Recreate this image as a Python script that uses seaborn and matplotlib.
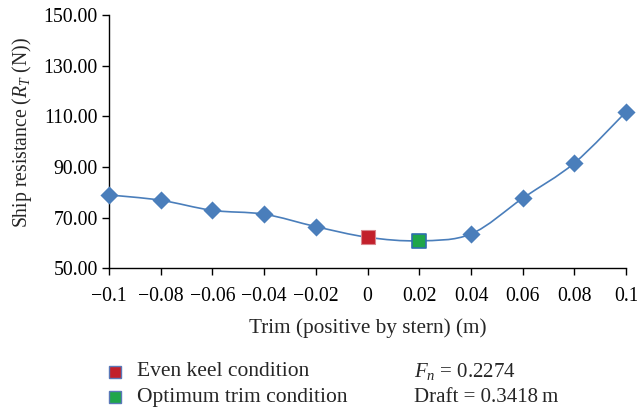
import numpy as np
import pandas as pd
import matplotlib
matplotlib.use("Agg")
import matplotlib.pyplot as plt
from matplotlib.path import Path
from matplotlib.patches import PathPatch
from matplotlib.lines import Line2D
import seaborn as sns

trim = [-0.1, -0.08, -0.06, -0.04, -0.02, 0.0, 0.02, 0.04, 0.06, 0.08, 0.1]
resistance = [79.0, 76.9, 72.9, 71.4, 66.5, 62.3, 60.9, 63.6, 77.7, 91.6, 111.8]
even_keel_trim = [0.0]
even_keel_res = [62.3]
opt_trim = [0.02]
opt_res = [60.9]
xtick_vals = [-0.1, -0.08, -0.06, -0.04, -0.02, 0.0, 0.02, 0.04, 0.06, 0.08, 0.1]
xtick_labels = ["\u22120.1", "\u22120.08", "\u22120.06", "\u22120.04", "\u22120.02", "0",
                "0.02", "0.04", "0.06", "0.08", "0.1"]
ytick_vals = [50, 70, 90, 110, 130, 150]
legend_labels = ["Even keel condition", "Optimum trim condition"]
info_lines = [r"$F_n$ = 0.2274", "Draft = 0.3418\u2009m"]

sns.set_style("white")
plt.rcParams['font.family'] = ['Liberation Serif', 'DejaVu Serif']
plt.rcParams['mathtext.fontset'] = 'custom'
plt.rcParams['mathtext.rm'] = 'Liberation Serif'
plt.rcParams['mathtext.it'] = 'Liberation Serif:italic'

fig = plt.figure(figsize=(6.37, 4.13), dpi=100)
ax = fig.add_axes([0.171, 0.350, 0.812, 0.614])

blue = "#4a7ebb"

# smoothed connecting curve (Bezier through data points, like a smoothed line chart)
x = np.array(trim); y = np.array(resistance)
verts = [(x[0], y[0])]
codes = [Path.MOVETO]
n = len(x)
for i in range(n - 1):
    p0 = (x[i - 1], y[i - 1]) if i > 0 else (x[i], y[i])
    p1 = (x[i], y[i]); p2 = (x[i + 1], y[i + 1])
    p3 = (x[i + 2], y[i + 2]) if i + 2 < n else p2
    c1 = (p1[0] + (p2[0] - p0[0]) / 6, p1[1] + (p2[1] - p0[1]) / 6)
    c2 = (p2[0] - (p3[0] - p1[0]) / 6, p2[1] - (p3[1] - p1[1]) / 6)
    verts += [c1, c2, p2]
    codes += [Path.CURVE4] * 3
ax.add_patch(PathPatch(Path(verts, codes), facecolor='none', edgecolor=blue, lw=1.2,
                       zorder=2, clip_on=False))

df = pd.DataFrame({"trim": trim, "res": resistance})
mask = ~df["trim"].isin(even_keel_trim + opt_trim)
sns.scatterplot(data=df[mask], x="trim", y="res", marker="D", s=85, color=blue,
                linewidth=0, ax=ax, zorder=3, clip_on=False)
sns.scatterplot(x=even_keel_trim, y=even_keel_res, marker="s", s=95, color="#c2202b",
                edgecolor="#d9868c", linewidth=0.8, ax=ax, zorder=4, clip_on=False)
sns.scatterplot(x=opt_trim, y=opt_res, marker="s", s=95, color="#1fa64a",
                edgecolor="#2f6fae", linewidth=1.2, ax=ax, zorder=4, clip_on=False)

ax.set_xlim(-0.1, 0.1)
ax.set_ylim(50, 150)
ax.set_xticks(xtick_vals)
ax.set_xticklabels(xtick_labels)
ax.set_yticks(ytick_vals)
ax.set_yticklabels([f"{v:.2f}" for v in ytick_vals])
ax.tick_params(axis='both', labelsize=14.2, direction='out', length=5, width=1,
               color='black', colors='black', left=True, bottom=True, pad=3)
ax.tick_params(axis='x', pad=8)
for s in ["top", "right"]:
    ax.spines[s].set_visible(False)
for s in ["left", "bottom"]:
    ax.spines[s].set_color("black")
    ax.spines[s].set_linewidth(1.0)
ax.set_xlabel("Trim (positive by stern) (m)", fontsize=15.3, labelpad=9)
ax.set_ylabel(r"Ship resistance ($R_T$ (N))", fontsize=14.2)
ax.yaxis.set_label_coords(-0.145, 0.535)

# legend below the chart
legend_colors = ["#c2202b", "#1fa64a"]
row_y = [0.0993, 0.0387]
for lab, col, yy in zip(legend_labels, legend_colors, row_y):
    fig.add_artist(Line2D([0.181], [yy], transform=fig.transFigure, marker='s',
                          linestyle='none', markersize=8.5, markerfacecolor=col,
                          markeredgecolor="#5a78b8", markeredgewidth=1))
    fig.text(0.215, yy, lab, fontsize=15.5, va='center', ha='left')
for txt, yy in zip(info_lines, row_y):
    fig.text(0.650, yy, txt, fontsize=15, va='center', ha='left')

fig.savefig("out.png", dpi=100)
